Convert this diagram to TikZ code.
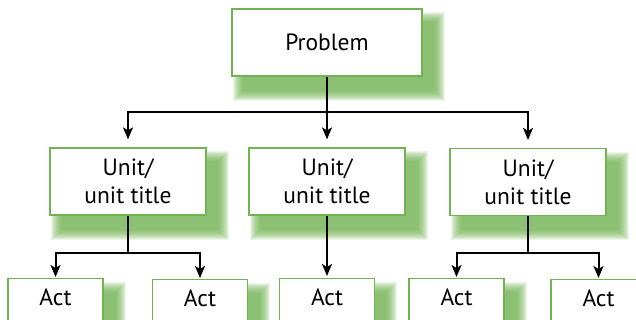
\documentclass[tikz,border=0pt]{standalone}
\usepackage{fontspec}
\setmainfont{PT Sans}
\usetikzlibrary{arrows.meta,calc,backgrounds}
\definecolor{boxgreen}{RGB}{112,180,82}
\definecolor{shadowgreen}{RGB}{104,172,70}
\begin{document}
\begin{tikzpicture}[x=1pt,y=-1pt,
		every node/.style={font=\fontsize{23.5}{28}\selectfont},
		plainbox/.style={draw=boxgreen,line width=1.2pt,fill=white,inner sep=0pt},
		problembox/.style={plainbox,minimum width=190pt,minimum height=67pt},
		unitbox/.style={plainbox,minimum width=156pt,minimum height=67pt,align=center},
		actbox/.style={plainbox,anchor=north,minimum width=95pt,text height=16pt,text depth=29pt,inner ysep=11pt},
		link/.style={line width=2pt},
		arrowlink/.style={link,-{Stealth[length=12pt,width=10pt,inset=3pt]}}]
		\useasboundingbox (0,0) rectangle (636,320);
		\clip (0,0) rectangle (636,320);

		% boxes
		\node[problembox] (problem) at (327,42.5) {Problem};

		\node[unitbox] (unit1) at (128,181.5) {Unit/\\unit title};
		\node[unitbox] (unit2) at (327,181.5) {Unit/\\unit title};
		\node[unitbox] (unit3) at (528,182) {Unit/\\unit title};

		\node[actbox] (act1) at (55.5,278) {Act};
		\node[actbox] (act2) at (200,279) {Act};
		\node[actbox] (act3) at (327,278) {Act};
		\node[actbox] (act4) at (456.5,278) {Act};
		\node[actbox] (act5) at (598.5,279) {Act};

		% soft green shadows
		\begin{scope}[on background layer]
			\foreach \n in {problem,unit1,unit2,unit3,act1,act2,act3,act4,act5}
				\foreach \r in {10,9,...,0}
					\fill[shadowgreen,opacity=0.12] ($(\n.north west)+(12-\r,14-\r)$) rectangle ($(\n.south east)+(12+\r,14+\r)$);
		\end{scope}

		% connectors
		\coordinate (split) at (problem.south |- 0,112);
		\draw[link] (problem.south) -- (split);
		\draw[arrowlink,shorten >=8pt] (split) -| (unit1.north);
		\draw[arrowlink,shorten >=8pt] (split) -- (unit2.north);
		\draw[arrowlink,shorten >=8pt] (split) -| (unit3.north);

		\coordinate (leftsplit) at (unit1.south |- 0,253);
		\draw[link] (unit1.south) -- (leftsplit);
		\draw[arrowlink,shorten >=1pt] (leftsplit) -| (act1.north);
		\draw[arrowlink,shorten >=1pt] (leftsplit) -| (act2.north);

		\draw[arrowlink,shorten >=2pt] (unit2.south) -- (act3.north);

		\coordinate (rightsplit) at (unit3.south |- 0,253);
		\draw[link] (unit3.south) -- (rightsplit);
		\draw[arrowlink,shorten >=1pt] (rightsplit) -| (act4.north);
		\draw[arrowlink,shorten >=1pt] (rightsplit) -| (act5.north);
	\end{tikzpicture}
\end{document}
